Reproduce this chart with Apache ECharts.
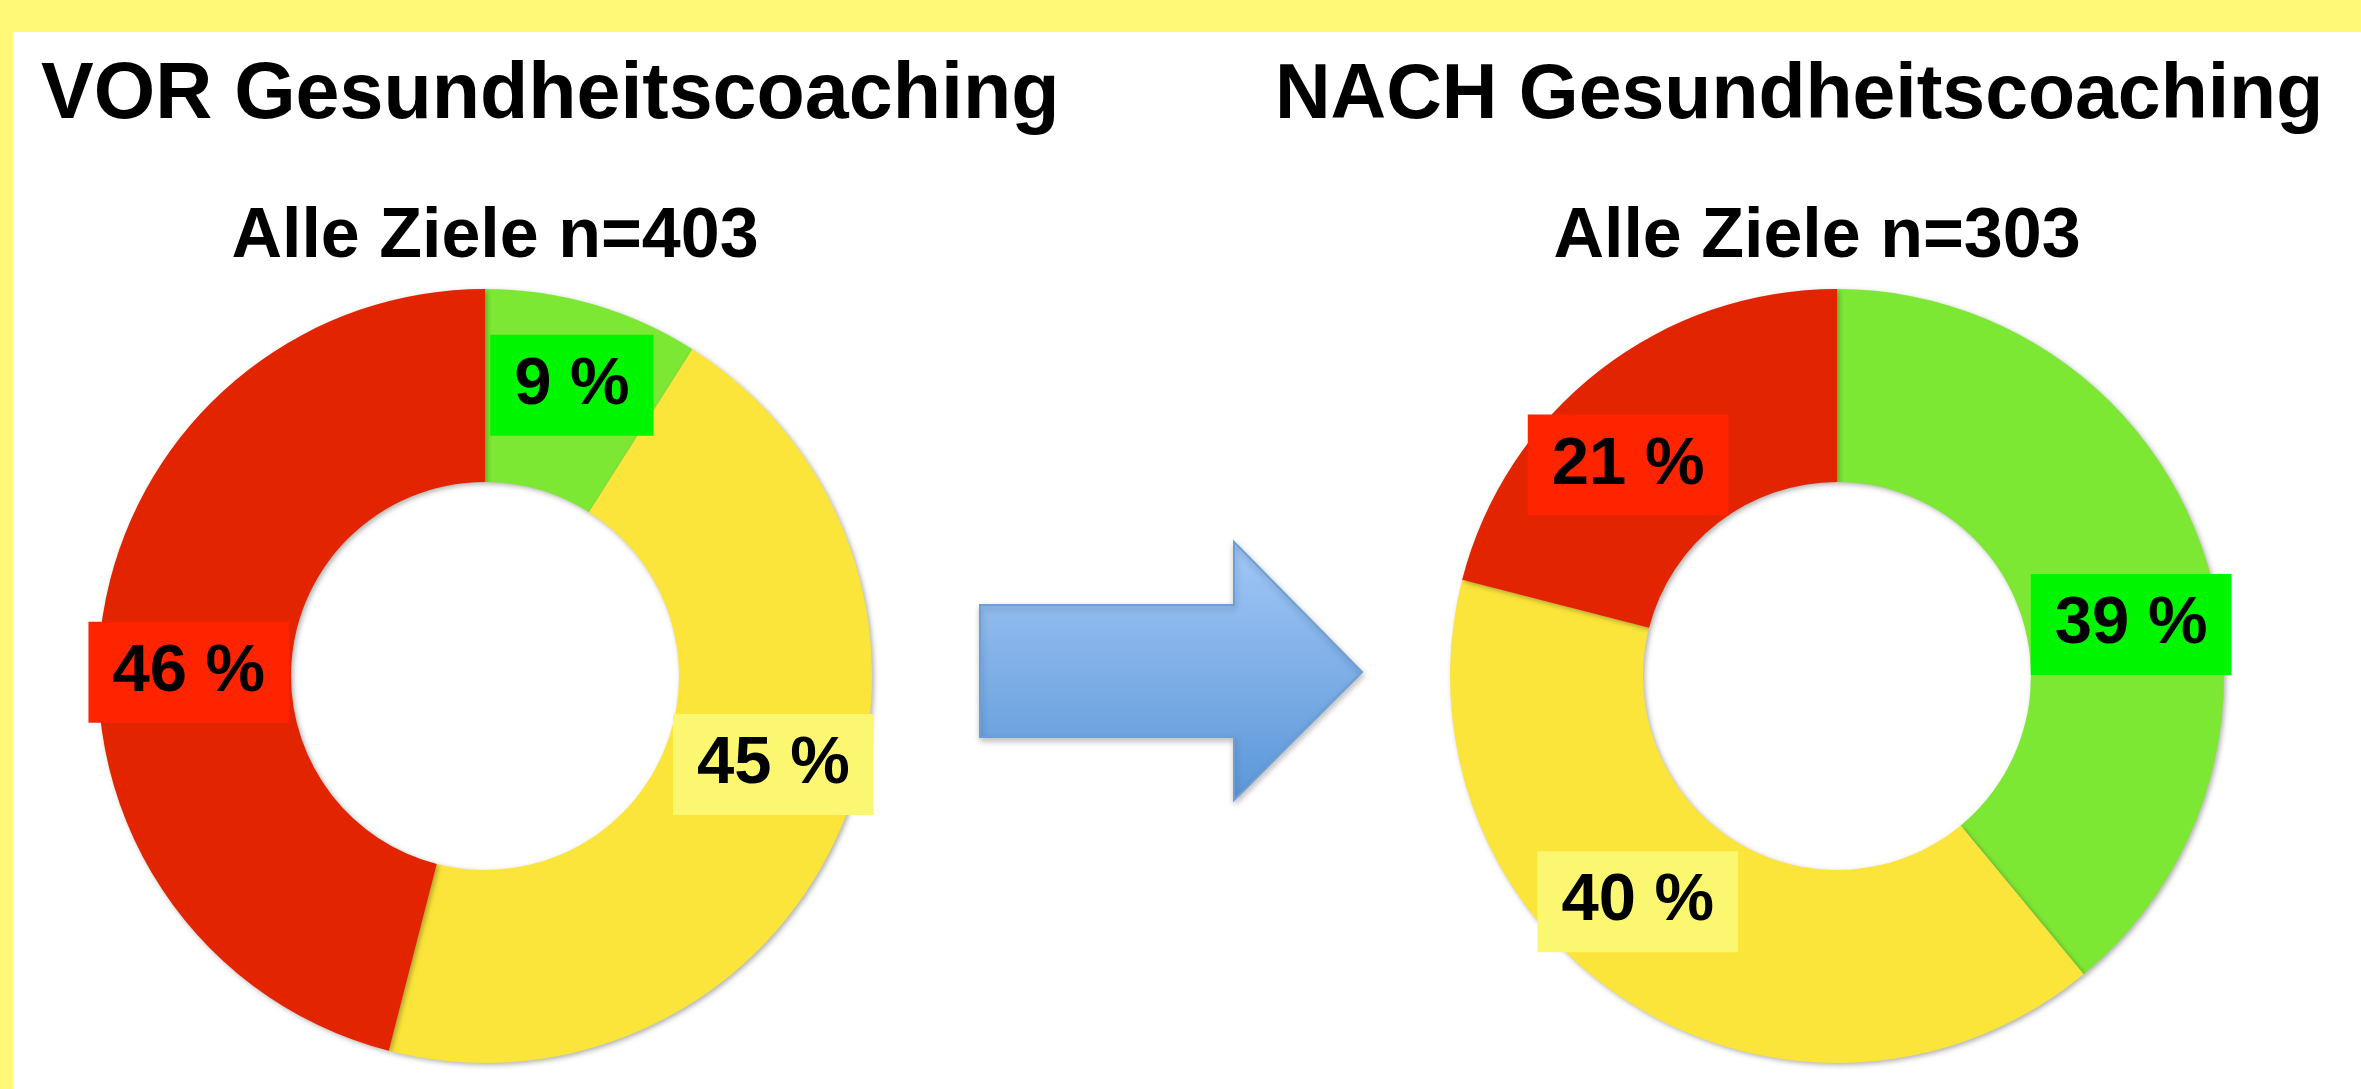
<!DOCTYPE html>
<html>
<head>
<meta charset="utf-8">
<style>
  html, body { margin: 0; padding: 0; background: #fff; }
  #chart { width: 2361px; height: 1089px; }
</style>
<script src="https://cdn.jsdelivr.net/npm/echarts@6/dist/echarts.min.js"></script>
</head>
<body>
<div id="chart"></div>
<script>
// Ampel-Kategorien (Reihenfolge im Uhrzeigersinn ab 12 Uhr)
var categories = ['Grün', 'Gelb', 'Rot'];
var vorValues = [9, 45, 46];
var nachValues = [39, 40, 21];
var vorN = 403;
var nachN = 303;

var sliceColors = ['#7de834', '#fce53a', '#e22400'];
var labelColors = ['#00f500', '#fcf770', '#ff2400'];

// Verschiebung der Beschriftungen (wie in Excel etwas versetzt)
var vorShift = [[5, -9], [19, -28], [-5, 33]];
var nachShift = [[18, 48], [-42, -22], [-29, 21]];

var font = 'Liberation Sans, Arial, sans-serif';

function makeData(values) {
  return values.map(function (v, i) {
    return {
      name: categories[i],
      value: v,
      itemStyle: { color: sliceColors[i] },
      label: { backgroundColor: labelColors[i] }
    };
  });
}

function donut(values, cx, shift) {
  return {
    type: 'pie',
    center: [cx, 676],
    radius: [194, 387],
    startAngle: 90,
    clockwise: true,
    silent: true,
    animation: false,
    itemStyle: {
      borderWidth: 0,
      shadowColor: 'rgba(0,0,0,0.3)',
      shadowBlur: 5,
      shadowOffsetX: 2,
      shadowOffsetY: 2
    },
    label: {
      show: true,
      position: 'inside',
      rotate: 0,
      formatter: '{c} %',
      color: '#000',
      fontFamily: font,
      fontWeight: 'bold',
      fontSize: 67,
      padding: [19, 24, 15, 24]
    },
    labelLine: { show: false },
    labelLayout: function (p) {
      return { dx: shift[p.dataIndex][0], dy: shift[p.dataIndex][1] };
    },
    emphasis: { disabled: true },
    data: makeData(values)
  };
}

var myChart = echarts.init(document.getElementById('chart'));

var option = {
  backgroundColor: '#ffffff',
  animation: false,
  title: [
    {
      text: 'VOR Gesundheitscoaching',
      left: 36, top: 52,
      textStyle: { fontFamily: font, fontWeight: 'bold', fontSize: 79, color: '#000' }
    },
    {
      text: 'NACH Gesundheitscoaching',
      left: 1270, top: 53,
      textStyle: { fontFamily: font, fontWeight: 'bold', fontSize: 77, color: '#000' }
    },
    {
      text: 'Alle Ziele n=' + vorN,
      left: 490, top: 198, textAlign: 'center',
      textStyle: { fontFamily: font, fontWeight: 'bold', fontSize: 70, color: '#000' }
    },
    {
      text: 'Alle Ziele n=' + nachN,
      left: 1812, top: 198, textAlign: 'center',
      textStyle: { fontFamily: font, fontWeight: 'bold', fontSize: 70, color: '#000' }
    }
  ],
  graphic: [
    // gelber Rahmen oben und links
    { type: 'rect', left: 0, top: 0, shape: { width: 2361, height: 32 }, style: { fill: '#fff977' }, silent: true },
    { type: 'rect', left: 0, top: 0, shape: { width: 13, height: 1089 }, style: { fill: '#fff977' }, silent: true },
    // Pfeil
    {
      type: 'polygon',
      silent: true,
      shape: {
        points: [[980, 605], [1234, 605], [1234, 542], [1362, 672], [1234, 800], [1234, 737], [980, 737]]
      },
      style: {
        fill: new echarts.graphic.LinearGradient(0, 0, 0, 1, [
          { offset: 0, color: '#a2c7f6' },
          { offset: 1, color: '#5a97d8' }
        ]),
        stroke: '#6d9fd6',
        lineWidth: 2,
        shadowColor: 'rgba(0,0,0,0.25)',
        shadowBlur: 6,
        shadowOffsetX: 1,
        shadowOffsetY: 3
      }
    }
  ],
  series: [
    donut(vorValues, 485, vorShift),
    donut(nachValues, 1837, nachShift)
  ]
};

myChart.setOption(option);
</script>
</body>
</html>
